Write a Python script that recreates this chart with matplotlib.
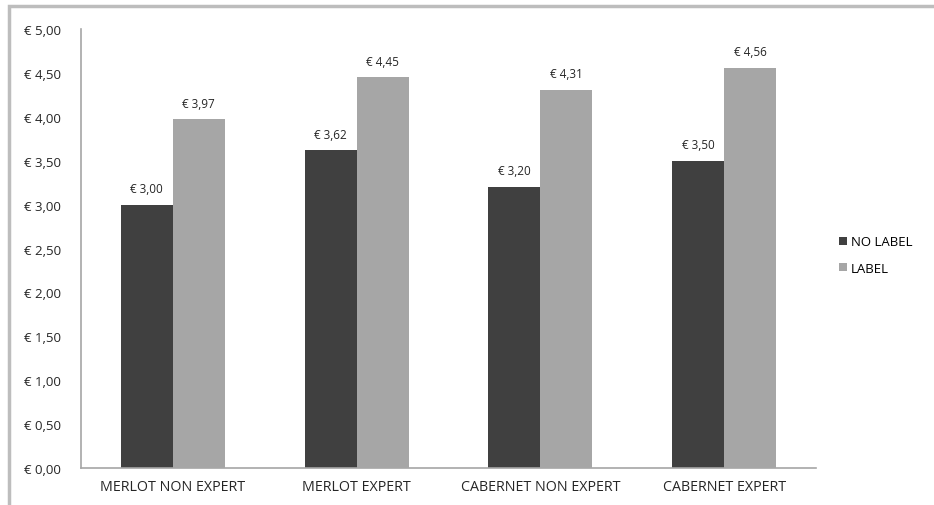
import matplotlib
matplotlib.use("Agg")
import matplotlib.pyplot as plt
import numpy as np
from matplotlib.patches import Rectangle

# 数据
categories = ["MERLOT NON EXPERT", "MERLOT EXPERT", "CABERNET NON EXPERT", "CABERNET EXPERT"]
no_label = [3.00, 3.62, 3.20, 3.50]
label = [3.97, 4.45, 4.31, 4.56]
series_names = ["NO LABEL", "LABEL"]

plt.rcParams['font.family'] = ['Open Sans', 'DejaVu Sans']

def euro_comma(v):
    return ("€ %.2f" % v).replace(".", ",")

fig = plt.figure(figsize=(9.34, 5.06), dpi=100)
ax = fig.add_axes([0.0867, 0.0731, 0.7870, 0.8676])

# 外框
fig.patches.append(Rectangle((9 / 934, -0.1), 1.2, 1 - 7 / 506 + 0.1, transform=fig.transFigure,
                             fill=False, edgecolor='#bdbdbd', linewidth=2.5))

x = np.arange(len(categories))
w = 0.283
b1 = ax.bar(x - w / 2, no_label, w, color='#404040', label=series_names[0])
b2 = ax.bar(x + w / 2, label, w, color='#a6a6a6', label=series_names[1])

for bars, vals in ((b1, no_label), (b2, label)):
    for r, v in zip(bars, vals):
        ax.text(r.get_x() + r.get_width() / 2, v + 0.11, euro_comma(v), ha='center', va='bottom',
                fontsize=8.5, color='#262626')

ax.set_xlim(-0.5, 3.5)
ax.set_ylim(0, 5)
ax.set_yticks(np.linspace(0, 5, 11))
ax.set_yticklabels([euro_comma(v) for v in np.linspace(0, 5, 11)])
ax.set_xticks(x)
ax.set_xticklabels(categories)
ax.tick_params(axis='both', length=0, colors='#262626')
ax.tick_params(axis='y', pad=41, labelsize=9.5)
ax.tick_params(axis='x', pad=8, labelsize=10.3)
for lbl in ax.get_yticklabels():
    lbl.set_horizontalalignment('left')
for s in ['top', 'right']:
    ax.spines[s].set_visible(False)
for s in ['left', 'bottom']:
    ax.spines[s].set_color('#a6a6a6')
    ax.spines[s].set_linewidth(1.2)

ax.legend(loc='center left', bbox_to_anchor=(1.015, 0.485), frameon=False, fontsize=9.5,
          handlelength=0.6, handleheight=0.6, handletextpad=0.3, labelspacing=1.0)

fig.savefig("out.png", dpi=100)
